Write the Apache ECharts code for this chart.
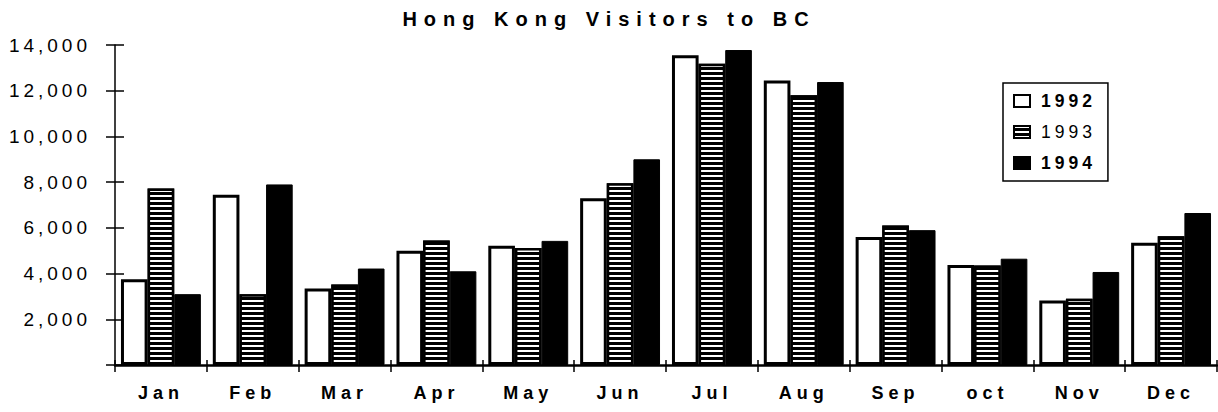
<!DOCTYPE html>
<html>
<head>
<meta charset="utf-8">
<script src="https://cdn.jsdelivr.net/npm/echarts@6/dist/echarts.min.js"></script>
<style>
html, body { margin: 0; padding: 0; background: #fff; }
#chart { width: 1218px; height: 412px; }
#chart text[style*="20px"] { letter-spacing: 7px; }
#chart text[style*="19px"] { letter-spacing: 4px; }
#chart text[style*="18px"] { letter-spacing: 5px; }
#chart text[style*="17.5px"] { letter-spacing: 4px; }
</style>
</head>
<body>
<div id="chart"></div>
<script>
const chartTitle = 'Hong Kong Visitors to BC';
const months = ['Jan', 'Feb', 'Mar', 'Apr', 'May', 'Jun', 'Jul', 'Aug', 'Sep', 'oct', 'Nov', 'Dec'];
const seriesNames = ['1992', '1993', '1994'];
const v1992 = [3750, 7450, 3350, 5000, 5220, 7300, 13550, 12450, 5600, 4380, 2820, 5350];
const v1993 = [7720, 3100, 3520, 5450, 5120, 7950, 13180, 11800, 6100, 4350, 2900, 5630];
const v1994 = [3100, 7900, 4220, 4100, 5430, 9000, 13780, 12380, 5900, 4650, 4070, 6650];
const yMin = 0, yMax = 14000, yInterval = 2000;

const FONT = 'Liberation Sans, Arial, sans-serif';
const fmt = v => v === 0 ? '' : String(v).replace(/\B(?=(\d{3})+(?!\d))/g, ',');

const chart = echarts.init(document.getElementById('chart'), null, { renderer: 'svg' });

const barBase = { type: 'bar', barGap: '0%', barCategoryGap: '13%', xAxisIndex: 0, yAxisIndex: 0 };

chart.setOption({
  animation: false,
  backgroundColor: '#fff',
  title: {
    text: chartTitle,
    left: 'center',
    top: 4,
    textStyle: { fontFamily: FONT, fontSize: 20, fontWeight: 'bold', color: '#000' }
  },
  legend: {
    orient: 'vertical',
    left: 1003,
    top: 83,
    padding: [8, 28, 8, 10],
    itemGap: 11,
    itemWidth: 16,
    itemHeight: 12,
    icon: 'rect',
    borderColor: '#000',
    borderWidth: 1.5,
    data: seriesNames,
    formatter: name => name === '1993' ? '{n|' + name + '}' : '{b|' + name + '}',
    textStyle: {
      fontFamily: FONT, fontSize: 17.5, color: '#000', lineHeight: 20,
      rich: {
        n: { fontFamily: FONT, fontSize: 17.5, fontWeight: 'normal', color: '#000', lineHeight: 20, padding: [0, 0, 0, 6] },
        b: { fontFamily: FONT, fontSize: 17.5, fontWeight: 'bold', color: '#000', lineHeight: 20, padding: [0, 0, 0, 6] }
      }
    }
  },
  grid: { left: 115, right: 1, top: 45, bottom: 47 },
  xAxis: [
    {
      type: 'category',
      data: months,
      position: 'bottom',
      axisLine: { show: true, lineStyle: { color: '#000', width: 2.5 } },
      axisTick: { show: true, length: 7, lineStyle: { color: '#000', width: 1.5 } },
      axisLabel: { margin: 19, fontFamily: FONT, fontSize: 18, fontWeight: 'bold', color: '#000' },
      splitLine: { show: false }
    },
    {
      type: 'category',
      data: months,
      position: 'bottom',
      axisLine: { show: false },
      axisTick: { show: true, inside: true, length: 5, lineStyle: { color: '#000', width: 1.5 } },
      axisLabel: { show: false },
      splitLine: { show: false }
    }
  ],
  yAxis: [
    {
      type: 'value',
      min: yMin, max: yMax, interval: yInterval,
      position: 'left',
      axisLine: { show: true, lineStyle: { color: '#000', width: 1.5 } },
      axisTick: { show: true, length: 9, lineStyle: { color: '#000', width: 1.5 } },
      axisLabel: { margin: 24, fontFamily: FONT, fontSize: 19, color: '#000', formatter: fmt },
      splitLine: { show: false }
    },
    {
      type: 'value',
      min: yMin, max: yMax, interval: yInterval,
      position: 'left',
      axisLine: { show: false },
      axisTick: { show: true, inside: true, length: 9, lineStyle: { color: '#000', width: 1.5 } },
      axisLabel: { show: false },
      splitLine: { show: false }
    }
  ],
  series: [
    Object.assign({}, barBase, {
      name: seriesNames[0], data: v1992,
      itemStyle: { color: '#fff', borderColor: '#000', borderWidth: 3 }
    }),
    Object.assign({}, barBase, {
      name: seriesNames[1], data: v1993,
      itemStyle: {
        color: '#000', borderColor: '#000', borderWidth: 2.5,
        decal: { symbol: 'rect', symbolSize: 1, color: '#fff', dashArrayX: [1, 0], dashArrayY: [2, 3], rotation: 0 }
      }
    }),
    Object.assign({}, barBase, {
      name: seriesNames[2], data: v1994,
      itemStyle: { color: '#000', borderColor: '#000', borderWidth: 1 }
    })
  ]
});
</script>
</body>
</html>
